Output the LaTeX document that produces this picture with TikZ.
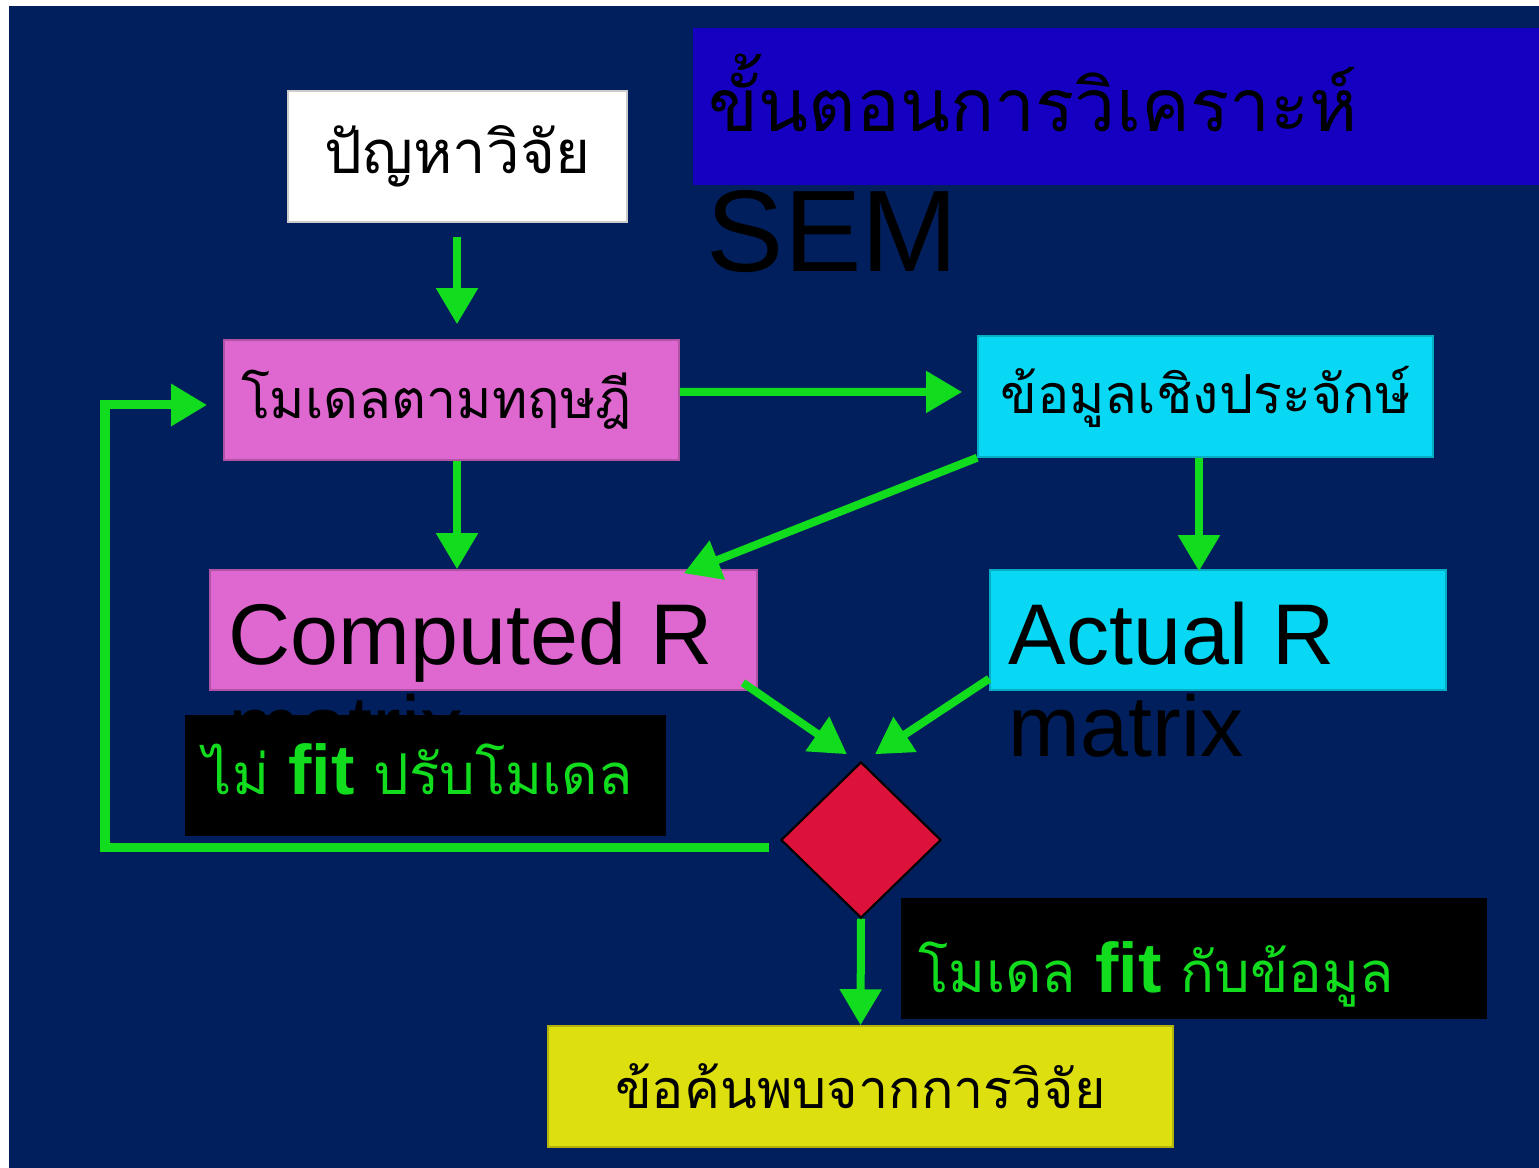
\documentclass[tikz,border=0pt]{standalone}
\usepackage{fontspec}
\setmainfont{Liberation Sans}
\newfontfamily\thaifont[Script=Thai]{Loma}
\newfontfamily\latinfont{Liberation Sans}
\usetikzlibrary{arrows.meta,shapes.geometric}

\definecolor{slidebg}{RGB}{0,31,92}
\definecolor{titleblue}{RGB}{21,0,194}
\definecolor{modelpink}{RGB}{223,103,208}
\definecolor{datacyan}{RGB}{8,216,244}
\definecolor{resultyellow}{RGB}{221,223,15}
\definecolor{flowgreen}{RGB}{18,220,30}
\definecolor{decisionred}{RGB}{220,18,58}

\newcommand{\fitword}{{\latinfont\bfseries\fontsize{20}{24}\selectfont fit}}

\tikzset{
  stagebox/.style={draw=#1!80!black, line width=0.4pt, fill=#1, inner sep=0pt,
    minimum height=1.2cm, text=black, font=\thaifont\fontsize{15.3}{19}\selectfont},
  matrixtext/.style={inner sep=0pt, text=black, font=\fontsize{24.5}{26}\selectfont},
  verdict/.style={fill=black, inner sep=0pt, minimum height=1.21cm, anchor=north west},
  verdicttext/.style={inner sep=0pt, text=flowgreen, anchor=base west,
    font=\thaifont\fontsize{16}{19}\selectfont},
  flow/.style={draw=flowgreen, line width=0.08cm, -{Triangle[length=0.36cm,width=0.4cm]}},
}

\begin{document}
\begin{tikzpicture}[x=0.01cm, y=-0.01cm]

% page: white strip on top and left, dark slide behind
\useasboundingbox (0,0) rectangle (1539,1168);
\fill[white] (0,0) rectangle (1539,1168);
\fill[slidebg] (9,6) rectangle (1539,1168);

% heading
\node[fill=titleblue, inner sep=0pt, minimum width=8.47cm, minimum height=1.57cm, anchor=north west] (title) at (692,27) {};
\node[anchor=base west, inner sep=0pt, font=\thaifont\fontsize{20.8}{25}\selectfont] (titletext) at (708,132) {ขั้นตอนการวิเคราะห์};
\node[anchor=base west, inner sep=0pt, font=\fontsize{33}{36}\selectfont] (sem) at (706,272) {SEM};

% stages
\node[stagebox=white, minimum width=3.39cm, minimum height=1.31cm, font=\thaifont\fontsize{17}{20}\selectfont] (problem) at (457.5,156.5) {ปัญหาวิจัย};
\node[stagebox=modelpink, minimum width=4.55cm] (theory) at (451.5,400) {\hspace*{-0.3cm}โมเดลตามทฤษฎี};
\node[stagebox=datacyan, minimum width=4.55cm, minimum height=1.21cm] (empirical) at (1205.5,396.5) {ข้อมูลเชิงประจักษ์};

\node[stagebox=modelpink, minimum width=5.47cm] (computed) at (483.5,630) {};
\node[matrixtext, anchor=base west] (computedname) at (228,665) {Computed R};
\node[matrixtext, anchor=base west] (computedmatrix) at (228,757) {matrix};

\node[stagebox=datacyan, minimum width=4.56cm] (actual) at (1218,630) {};
\node[matrixtext, anchor=base west] (actualname) at (1008,665) {Actual R};
\node[matrixtext, anchor=base west] (actualmatrix) at (1008,757) {matrix};

\node[stagebox=resultyellow, minimum width=6.25cm, minimum height=1.21cm] (findings) at (860.5,1086.5) {ข้อค้นพบจากการวิจัย};

% outcome labels
\node[verdict, minimum width=4.81cm] (refit) at (184,714) {};
\node[verdicttext] (refittext) at (203,795) {ไม่ \fitword{} ปรับโมเดล};
\node[verdict, minimum width=5.86cm] (fits) at (900,897) {};
\node[verdicttext] (fitstext) at (918,993) {โมเดล \fitword{} กับข้อมูล};

% arrows
\coordinate (axis) at (457,0);
\coordinate (datacol) at (1199,0);
\coordinate (loopx) at (105,600);
\node[diamond, inner sep=0pt, minimum width=1.6cm, minimum height=1.56cm] (decision) at (861,840) {};

\draw[flow, shorten <=0.14cm, shorten >=0.15cm] (problem.south -| axis) -- (theory.north -| axis);
\draw[flow, shorten >=0.15cm] ([yshift=0.08cm]theory.east) -- ([yshift=0.045cm]empirical.west);
\draw[flow] (theory.south -| axis) -- (computed.north -| axis);
\draw[flow] (empirical.south west) -- ([shift={(-0.74cm,-0.04cm)}]computed.north east);
\draw[flow] (empirical.south -| datacol) -- ([yshift=-0.02cm]actual.north -| datacol);
\draw[flow] ([shift={(-0.15cm,0.08cm)}]computed.south east) -- ([shift={(-0.14cm,0.07cm)}]decision.north);
\draw[flow] ([yshift=0.12cm]actual.south west) -- ([shift={(0.14cm,0.07cm)}]decision.north);
\draw[flow] (decision.south) -- (findings.north);
\draw[flow, line width=0.09cm] ([shift={(-0.11cm,-0.08cm)}]decision.west) -| (loopx) |- ([shift={(-0.16cm,-0.05cm)}]theory.west);

% decision
\node[diamond, draw=black, line width=0.6pt, fill=decisionred, inner sep=0pt, minimum width=1.6cm, minimum height=1.56cm] at (decision) {};

\end{tikzpicture}
\end{document}
